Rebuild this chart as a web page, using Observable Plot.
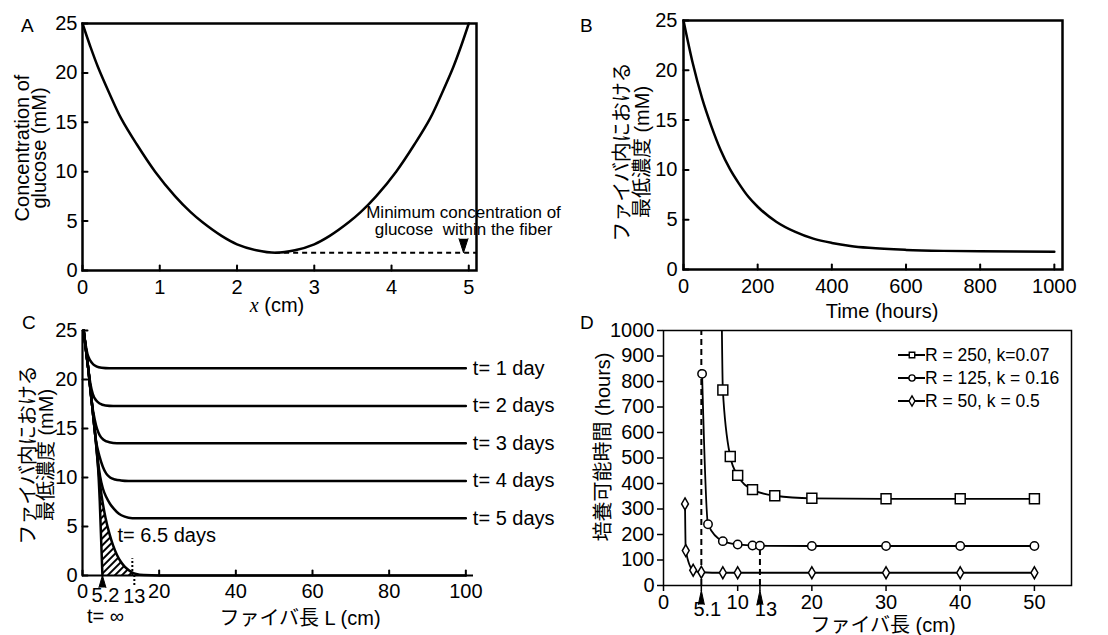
<!DOCTYPE html>
<html><head><meta charset="utf-8">
<script src="https://cdn.jsdelivr.net/npm/d3@7"></script>
<script src="https://cdn.jsdelivr.net/npm/@observablehq/plot@0.6"></script>
<style>
body{margin:0;background:#fff;}
#root{position:relative;width:1108px;height:635px;overflow:hidden;font-family:"Liberation Sans",Arial,"Noto Sans CJK JP",sans-serif;color:#000;background:#fff;}
.panel{position:absolute;}
.t{position:absolute;white-space:nowrap;font-size:20px;text-align:center;}
.rot{transform:translate(-50%,-50%) rotate(-90deg);}
.mid{transform:translate(-50%,-50%);}
.letter{position:absolute;font-size:19px;line-height:19px;}
</style></head><body>
<svg width="0" height="0" style="position:absolute"><defs>
<pattern id="hatch" patternUnits="userSpaceOnUse" width="5" height="5" patternTransform="rotate(45)">
<line x1="1" y1="0" x2="1" y2="5" stroke="black" stroke-width="2"/></pattern></defs></svg>
<div id="root"></div>
<script>
// ---------- Panel A: glucose along the fiber ----------
const aX = [0, 0.1, 0.2, 0.35, 0.5, 0.7, 0.94, 1.2, 1.4, 1.55, 1.8, 2.0, 2.25, 2.5, 2.75, 3.0, 3.2, 3.45, 3.6, 3.8, 4.06, 4.3, 4.5, 4.65, 4.8, 4.9, 5.0];
const aY = [25, 22.7, 20.6, 17.9, 15.4, 12.8, 10.0, 7.5, 5.9, 4.9, 3.5, 2.65, 2.05, 1.8, 2.05, 2.65, 3.5, 4.9, 5.9, 7.5, 10.0, 12.8, 15.4, 17.9, 20.6, 22.7, 25];
const aXTicks = [0, 1, 2, 3, 4, 5];
const aYTicks = [0, 5, 10, 15, 20, 25];
const aXMax = 5.1;
const aNote = "Minimum concentration of\nglucose  within the fiber";

// ---------- Panel B: minimum concentration vs time ----------
const bT = [0, 25, 50, 75, 100, 125, 150, 175, 200, 250, 300, 350, 400, 450, 500, 600, 700, 800, 900, 1000];
const bY = [25, 20.7, 17.2, 14.4, 12.0, 10.1, 8.6, 7.3, 6.3, 4.8, 3.8, 3.1, 2.67, 2.37, 2.18, 1.97, 1.87, 1.83, 1.8, 1.78];
const bXTicks = [0, 200, 400, 600, 800, 1000];
const bYTicks = [0, 5, 10, 15, 20, 25];
const bXMax = 1022;

// ---------- Panel C: minimum concentration vs fiber length ----------
const cNames = ["t= 1 day", "t= 2 days", "t= 3 days", "t= 4 days", "t= 5 days"];
const c1X = [0.3, 0.8, 1.3, 2, 2.8, 3.6, 5, 7, 100];
const c1Y = [25, 23.6, 22.6, 21.95, 21.55, 21.35, 21.2, 21.15, 21.15];
const c2X = [0.3, 1.5, 2.1, 2.7, 3.6, 4.5, 6, 8, 100];
const c2Y = [25, 21.1, 19.5, 18.5, 17.85, 17.55, 17.35, 17.3, 17.3];
const c3X = [0.3, 1.5, 2.5, 3.2, 3.8, 4.5, 5.5, 7, 9, 100];
const c3Y = [25, 21.1, 17.4, 15.9, 14.95, 14.3, 13.85, 13.6, 13.5, 13.5];
const c4X = [0.3, 1.5, 2.5, 3.5, 4.4, 5.3, 6.2, 7.2, 8.5, 10, 12, 100];
const c4Y = [25, 21.1, 17.4, 13.8, 12.2, 11.1, 10.4, 10.0, 9.8, 9.7, 9.65, 9.65];
const c5X = [0.3, 1.5, 2.5, 3.5, 4, 4.6, 5.3, 6.2, 7.2, 8.2, 9.5, 11, 13, 100];
const c5Y = [25, 21.1, 17.4, 13.7, 11.8, 10.1, 8.9, 8.0, 7.3, 6.8, 6.3, 6.0, 5.85, 5.85];
const c65X = [0.3, 1.5, 2.5, 3.5, 4, 4.5, 5, 6, 7, 8, 9, 10, 11, 12, 13, 14, 16, 20, 100];
const c65Y = [25, 21.1, 17.4, 13.6, 11.4, 9.6, 8.1, 5.9, 4.3, 3.05, 2.1, 1.4, 0.9, 0.55, 0.3, 0.15, 0.04, 0, 0];
const cInfX = [0.3, 1.5, 2.5, 3.5, 4, 4.5, 5.2];
const cInfY = [25, 21.1, 17.4, 13.6, 11.4, 7.6, 0];
const c65Label = "t= 6.5 days";
const cInfLabel = "t= \u221e";
const cInfLength = 5.2;
const c65Length = 13;
const c65MarkTop = 1.7;
const cXTicks = [0, 20, 40, 60, 80, 100];
const cYTicks = [0, 5, 10, 15, 20, 25];
const cXMax = 102;

// ---------- Panel D: culture time vs fiber length ----------
const dNames = ["R = 250, k=0.07", "R = 125, k = 0.16", "R = 50, k = 0.5"];
const dSymbols = ["square", "circle", "diamond"];
const dSqX = [7.85, 8, 9, 10, 12, 15, 20, 30, 40, 50];
const dSqY = [1060, 767, 506, 432, 376, 352, 342, 340, 340, 340];
const dCiX = [5.2, 6, 8, 10, 12, 13, 20, 30, 40, 50];
const dCiY = [830, 240, 174, 161, 157, 156, 155, 155, 155, 155];
const dDiX = [2.9, 3, 4, 5.1, 8, 10, 20, 30, 40, 50];
const dDiY = [320, 137, 60, 52, 50, 50, 50, 50, 50, 50];
const dMarks = [5.1, 13];
const dXTicks = [0, 10, 20, 30, 40, 50];
const dYTicks = [0, 100, 200, 300, 400, 500, 600, 700, 800, 900, 1000];
const dXMax = 55;
const dYMax = 1000;

// ---------------------------------------------------------------
const FONT = '"Liberation Sans", Arial, "Noto Sans CJK JP", sans-serif';
const root = document.getElementById("root");
const zip = (xs, ys, extra = {}) => xs.map((x, i) => ({x, y: ys[i], ...extra}));
const fmt = d => String(d);
const baseStyle = {background: "transparent", overflow: "visible", fontFamily: FONT, fontSize: "20px", color: "#000"};
const tickShape = {draw(context, l) { context.moveTo(0, 0); context.lineTo(0, -l); }};
const inX = (ticks, sw = 2) => Plot.vector(ticks, {x: d => d, frameAnchor: "bottom", anchor: "start", length: 5, shape: tickShape, stroke: "black", strokeWidth: sw});
const inY = (ticks, sw = 2) => Plot.vector(ticks, {y: d => d, frameAnchor: "left", anchor: "start", rotate: 90, length: 5, shape: tickShape, stroke: "black", strokeWidth: sw});
function put(node, left, top) {
  const d = document.createElement("div");
  d.className = "panel"; d.style.left = left + "px"; d.style.top = top + "px";
  d.appendChild(node); root.appendChild(d);
}
function text(html, cls, left, top, lh) {
  const d = document.createElement("div");
  d.className = "t " + cls; d.innerHTML = html;
  d.style.left = left + "px"; d.style.top = top + "px";
  if (lh) d.style.lineHeight = lh + "px";
  root.appendChild(d);
}
function letter(s, left, top) {
  const d = document.createElement("div");
  d.className = "letter"; d.textContent = s;
  d.style.left = left + "px"; d.style.top = top + "px";
  root.appendChild(d);
}

// ---- A ----
const aData = zip(aX, aY);
const aMinPt = aData.reduce((m, d) => d.y < m.y ? d : m);
put(Plot.plot({
  width: 540, height: 320, marginLeft: 82, marginRight: 64, marginTop: 23, marginBottom: 50,
  x: {domain: [0, aXMax], label: null}, y: {domain: [0, 25], label: null},
  style: baseStyle,
  marks: [
    Plot.axisX(aXTicks, {tickSize: 0, tickPadding: 9, label: null, tickFormat: fmt, fontSize: 20}),
    Plot.axisY(aYTicks, {tickSize: 0, tickPadding: 5, label: null, tickFormat: fmt, fontSize: 20}),
    inX(aXTicks), inY(aYTicks),
    Plot.ruleY([aMinPt], {y: "y", x1: "x", x2: aXMax, strokeDasharray: "5,4", strokeWidth: 2}),
    Plot.line(aData, {x: "x", y: "y", strokeWidth: 2.5, curve: "catmull-rom"}),
    Plot.frame({strokeWidth: 2.5}),
    Plot.vector([aMinPt], {y: "y", frameAnchor: "right", dx: -13, anchor: "end", rotate: 180, length: 14, r: 4.5, shape: "spike", fill: "black", stroke: "black", strokeWidth: 1}),
    Plot.text([aNote], {frameAnchor: "bottom-right", textAnchor: "middle", dx: -13, dy: -36, fontSize: 17, lineHeight: 1.0})
  ]
}), 0, 0);

// ---- B ----
put(Plot.plot({
  width: 548, height: 320, marginLeft: 123, marginRight: 46, marginTop: 20, marginBottom: 51,
  x: {domain: [0, bXMax], label: null}, y: {domain: [0, 25], label: null},
  style: baseStyle,
  marks: [
    Plot.axisX(bXTicks, {tickSize: 0, tickPadding: 9, label: null, tickFormat: fmt, fontSize: 20}),
    Plot.axisY(bYTicks, {tickSize: 0, tickPadding: 6, label: null, tickFormat: fmt, fontSize: 20}),
    inX(bXTicks), inY(bYTicks),
    Plot.line(zip(bT, bY), {x: "x", y: "y", strokeWidth: 2.5, curve: "monotone-x"}),
    Plot.frame({strokeWidth: 2.5})
  ]
}), 560, 0);

// ---- C ----
const cSeries = [[c1X, c1Y], [c2X, c2Y], [c3X, c3Y], [c4X, c4Y], [c5X, c5Y]];
const cLines = cSeries.flatMap(([xs, ys], k) => zip(xs, ys, {s: cNames[k]}));
const cEnds = cSeries.map(([xs, ys], k) => ({x: xs[xs.length - 1], y: ys[ys.length - 1], s: cNames[k]}));
// hatched region between t=inf and t=6.5 after the two curves separate
let common = 0;
while (common < cInfX.length && cInfX[common] === c65X[common] && cInfY[common] === c65Y[common]) common++;
const split = common - 1;
const c65Tail = zip(c65X, c65Y).filter(d => d.x >= cInfX[split] && d.y > 0);
const hatchPoly = [
  ...zip(cInfX, cInfY).slice(split),
  {x: c65Tail[c65Tail.length - 1].x, y: 0},
  ...c65Tail.slice().reverse()
];
put(Plot.plot({
  width: 540, height: 315, marginLeft: 82, marginRight: 67, marginTop: 10, marginBottom: 60,
  x: {domain: [0, cXMax], label: null}, y: {domain: [0, 25], label: null},
  style: baseStyle,
  marks: [
    Plot.line(hatchPoly, {x: "x", y: "y", fill: "url(#hatch)", stroke: "none", curve: "linear"}),
    Plot.axisX(cXTicks, {tickSize: 0, tickPadding: 8, label: null, tickFormat: fmt, fontSize: 20}),
    Plot.axisY(cYTicks, {tickSize: 0, tickPadding: 5, label: null, tickFormat: fmt, fontSize: 20}),
    inX(cXTicks), inY(cYTicks),
    Plot.ruleY([0], {strokeWidth: 2.2}),
    Plot.ruleX([0], {strokeWidth: 2.2}),
    Plot.ruleX([c65Length], {y1: 0, y2: c65MarkTop, strokeDasharray: "2,2", strokeWidth: 2}),
    Plot.axisX([c65Length], {tickSize: 12, tickPadding: 1, strokeDasharray: "2,2", strokeWidth: 2, label: null, tickFormat: fmt, fontSize: 20, dx: 2}),
    Plot.line(zip(cInfX, cInfY), {x: "x", y: "y", strokeWidth: 2.5, curve: "monotone-x"}),
    Plot.line(zip(c65X, c65Y), {x: "x", y: "y", strokeWidth: 2.5, curve: "monotone-x"}),
    Plot.line(cLines, {x: "x", y: "y", z: "s", strokeWidth: 2.5, curve: "monotone-x"}),
    Plot.text(cEnds, {x: "x", y: "y", text: "s", textAnchor: "start", dx: 7, fontSize: 20}),
    Plot.text([c65Label], {frameAnchor: "bottom-left", textAnchor: "start", dx: 35, dy: -34, fontSize: 20}),
    Plot.vector([cInfLength], {x: d => d, frameAnchor: "bottom", anchor: "end", length: 12, r: 3.5, shape: "spike", fill: "black", stroke: "black", strokeWidth: 1}),
    Plot.text([cInfLength], {x: d => d, frameAnchor: "bottom", dy: 26, dx: 3, text: fmt, fontSize: 20}),
    Plot.text([cInfLabel], {x: () => cInfLength, frameAnchor: "bottom", dy: 47, dx: 3, fontSize: 20})
  ]
}), 0, 320);

// ---- D ----
const dSeries = [[dSqX, dSqY], [dCiX, dCiY], [dDiX, dDiY]];
const dAll = dSeries.flatMap(([xs, ys], k) => zip(xs, ys, {s: dNames[k], sym: dSymbols[k]}));
const dRules = dMarks.map(x => ({x, top: dCiX.includes(x) ? dCiY[dCiX.indexOf(x)] : dYMax}));
const symSize = {square: 5.6, circle: 4.2, diamond: 3.6};
put(Plot.plot({
  width: 548, height: 315, marginLeft: 103, marginRight: 37, marginTop: 10, marginBottom: 50,
  x: {domain: [0, dXMax], label: null}, y: {domain: [0, dYMax], label: null},
  style: baseStyle,
  marks: [
    Plot.axisX(dXTicks, {tickSize: 6, tickPadding: 3, label: null, strokeWidth: 1.5, tickFormat: fmt, fontSize: 20}),
    Plot.axisY(dYTicks, {tickSize: 6, tickPadding: 3, label: null, strokeWidth: 1.5, tickFormat: fmt, fontSize: 20}),
    Plot.ruleX(dRules, {x: "x", y1: 0, y2: "top", strokeDasharray: "6,4", strokeWidth: 2}),
    Plot.axisX(dMarks, {tickSize: 6, text: null, label: null, strokeWidth: 1.5}),
    Plot.vector(dMarks, {x: d => d, frameAnchor: "bottom", anchor: "end", dy: 5, length: 14, r: 3, shape: "spike", fill: "black", stroke: "black", strokeWidth: 1}),
    Plot.text(dMarks, {x: d => d, frameAnchor: "bottom", dy: 30, dx: 6, text: fmt, fontSize: 20}),
    Plot.line(dAll, {x: "x", y: "y", z: "s", strokeWidth: 1.8, curve: "monotone-x", clip: true}),
    ...dSymbols.map(sym => Plot.dot(dAll.filter(d => d.sym === sym), {x: "x", y: "y", symbol: () => sym, r: symSize[sym], fill: "white", stroke: "black", strokeWidth: 1.5, clip: true})),
    Plot.frame({strokeWidth: 1.5})
  ]
}), 560, 320);

// D legend
const legendRowsY = [355, 378, 401];
dNames.forEach((name, i) => {
  const svg = d3.create("svg").attr("width", 28).attr("height", 14)
    .style("position", "absolute").style("left", "898px").style("top", (legendRowsY[i] - 7) + "px");
  svg.append("line").attr("x1", 0).attr("x2", 27).attr("y1", 7).attr("y2", 7).attr("stroke", "black").attr("stroke-width", 2);
  const sym = {square: d3.symbolSquare, circle: d3.symbolCircle, diamond: d3.symbolDiamond}[dSymbols[i]];
  svg.append("path").attr("d", d3.symbol(sym, 30)()).attr("transform", "translate(14,7)")
    .attr("fill", "white").attr("stroke", "black").attr("stroke-width", 1.4);
  root.appendChild(svg.node());
  const t = document.createElement("div");
  t.className = "t"; t.textContent = name;
  t.style.fontSize = "17.5px"; t.style.lineHeight = "20px";
  t.style.left = "925px"; t.style.top = (legendRowsY[i] - 10) + "px"; t.style.textAlign = "left";
  root.appendChild(t);
});

// axis titles
text("Concentration of<br>glucose (mM)", "rot", 31, 148, 17);
text('<i style="font-family:\'Liberation Serif\',serif">x</i> (cm)', "mid", 277, 305);
text("ファイバ内における<br>最低濃度 (mM)", "rot", 632, 152, 20);
text("Time (hours)", "mid", 882, 311);
text("ファイバ内における<br>最低濃度 (mM)", "rot", 37, 455, 18);
text("ファイバ長 L (cm)", "mid", 300, 616);
text("培養可能時間 (hours)", "rot", 601, 447);
text("ファイバ長 (cm)", "mid", 883, 623);

letter("A", 21, 16); letter("B", 580, 16); letter("C", 22, 313); letter("D", 580, 313);
</script></body></html>
